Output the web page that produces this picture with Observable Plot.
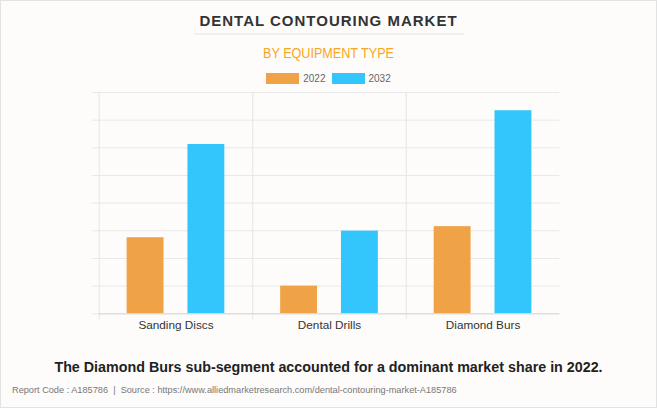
<!DOCTYPE html>
<html>
<head>
<meta charset="utf-8">
<script src="https://cdn.jsdelivr.net/npm/d3@7"></script>
<script src="https://cdn.jsdelivr.net/npm/@observablehq/plot@0.6"></script>
<style>
  html, body { margin: 0; padding: 0; background: #fff; }
  #card { position: relative; width: 655px; height: 406px; border: 1px solid #e2e2e2; background: #fdfcfb; overflow: hidden; font-family: "Liberation Sans", Arial, sans-serif; }
  #title { position: absolute; top: 11px; left: 0; width: 655px; text-align: center; font-weight: bold; font-size: 15px; letter-spacing: 1.0px; color: #333; }
  #rule { position: absolute; top: 32px; left: 193px; width: 270px; height: 2px; background: #efefef; }
  #subtitle { position: absolute; top: 44px; left: 0; width: 655px; text-align: center; font-size: 14px; color: #f9a622; transform: scaleX(0.9); transform-origin: 328px 0; }
  #legend { position: absolute; top: 72px; left: 0; width: 655px; display: flex; justify-content: center; align-items: center; font-size: 10px; color: #666; }
  #legend .sw { display: inline-block; width: 33px; height: 11px; margin-right: 4px; }
  #legend .item { display: flex; align-items: center; margin: 0 3px; }
  #chart { position: absolute; top: 85px; left: 0; }
  #caption { position: absolute; top: 358px; left: 0; width: 655px; text-align: center; font-weight: bold; font-size: 14.3px; color: #222; }
  #footer { position: absolute; top: 384px; left: 11px; font-size: 9.2px; color: #777; }
</style>
</head>
<body>
<div id="card">
  <div id="title">DENTAL CONTOURING MARKET</div>
  <div id="rule"></div>
  <div id="subtitle">BY EQUIPMENT TYPE</div>
  <div id="legend"></div>
  <div id="chart"></div>
  <div id="caption">The Diamond Burs sub-segment accounted for a dominant market share in 2022.</div>
  <div id="footer">Report Code : A185786 &nbsp;|&nbsp; Source : https://www.alliedmarketresearch.com/dental-contouring-market-A185786</div>
</div>
<script>
const categories = ["Sanding Discs", "Dental Drills", "Diamond Burs"];
const years = ["2022", "2032"];
const values2022 = [2.75, 1.0, 3.15];
const values2032 = [6.12, 2.99, 7.34];
const colors = ["#f0a346", "#33c6fd"];
const yTicks = [0, 1, 2, 3, 4, 5, 6, 7, 8];

const data = [];
categories.forEach((c, i) => {
  data.push({category: c, year: years[0], value: values2022[i]});
  data.push({category: c, year: years[1], value: values2032[i]});
});

const legend = document.getElementById("legend");
years.forEach((y, i) => {
  const item = document.createElement("span");
  item.className = "item";
  item.innerHTML = `<span class="sw" style="background:${colors[i]}"></span><span>${y}</span>`;
  legend.appendChild(item);
});

const chart = Plot.plot({
  width: 657,
  height: 250,
  marginLeft: 97,
  marginRight: 97,
  marginTop: 6,
  marginBottom: 22,
  style: { background: "transparent", fontFamily: "Liberation Sans, Arial, sans-serif" },
  fx: { domain: categories, padding: 0, label: null },
  x: { domain: years, padding: 0.4, paddingOuter: 0.456, axis: null },
  y: { domain: [0, 8], axis: null },
  color: { domain: years, range: colors },
  marks: [
    Plot.gridY(yTicks, { stroke: "#e8e8e8", strokeOpacity: 1 }),
    Plot.axisY(yTicks, { tickSize: 7, tickFormat: () => "", stroke: "#e8e8e8", label: null }),
    Plot.frame({ anchor: "left", stroke: "#e6e6e6", insetBottom: -5 }),
    Plot.barY(data, { fx: "category", x: "year", y: "value", fill: "year" }),
    Plot.ruleY([0], { stroke: "#d8d8d8" }),
    Plot.axisFx({ anchor: "bottom", tickSize: 0, tickPadding: 7, fontSize: 11.8, fill: "#333", label: null })
  ]
});
document.getElementById("chart").appendChild(chart);
</script>
</body>
</html>
